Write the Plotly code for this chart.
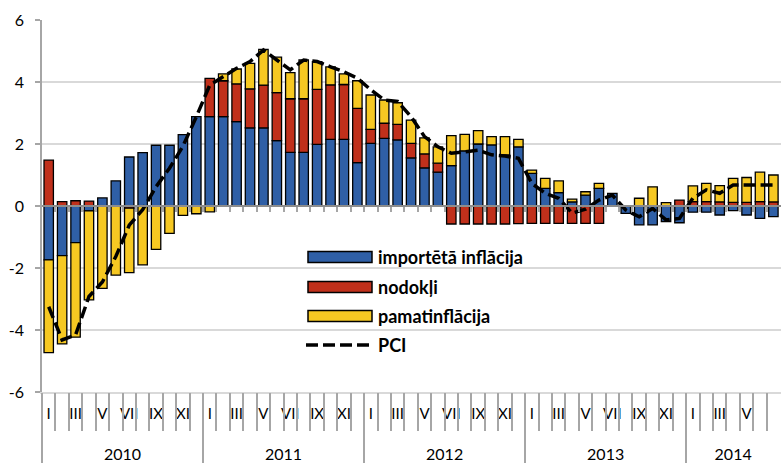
import plotly.graph_objects as go

# ---- data (monthly, Jan 2010 - Jul 2014) ----
years = ["2010", "2011", "2012", "2013", "2014"]
month_labels = ["I", "", "III", "", "V", "", "VII", "", "IX", "", "XI", ""]

importeta = [-1.74, -1.60, -1.18, -0.16, 0.26, 0.81, 1.58, 1.72, 1.96, 1.96, 2.30, 2.88,
             2.88, 2.88, 2.72, 2.52, 2.52, 2.11, 1.73, 1.73, 1.99, 2.15, 2.15, 1.40,
             2.02, 2.18, 2.13, 1.55, 1.23, 1.09, 1.30, 1.78, 2.00, 1.97, 1.65, 1.91,
             1.05, 0.57, 0.43, 0.13, 0.35, 0.57, 0.41, -0.24, -0.61, -0.61, -0.50, -0.54,
             -0.20, -0.20, -0.29, -0.15, -0.29, -0.40, -0.34]

nodokli = [1.48, 0.14, 0.17, 0.16, None, None, -0.07, None, None, None, None, None,
           1.24, 1.16, 1.22, 1.26, 1.38, 1.55, 1.73, 1.73, 1.77, 1.76, 1.77, 1.75,
           0.45, 0.49, 0.50, 0.47, 0.45, 0.29, -0.58, -0.58, -0.58, -0.58, -0.58, -0.57,
           -0.56, -0.56, -0.56, -0.56, -0.56, -0.56, None, None, None, None, None, 0.19,
           0.14, 0.14, 0.13, 0.12, 0.12, 0.14, 0.13]

pamatinflacija = [-2.99, -2.85, -3.05, -2.87, -2.66, -2.23, -2.08, -1.90, -1.40, -0.88, -0.30, -0.25,
                  -0.19, 0.22, 0.48, 0.82, 1.15, 1.14, 0.84, 1.25, 0.90, 0.58, 0.34, 0.89,
                  1.11, 0.75, 0.70, 0.75, 0.52, 0.53, 0.97, 0.53, 0.43, 0.27, 0.59, 0.24,
                  0.11, 0.32, 0.38, 0.09, 0.11, 0.16, None, None, 0.25, 0.62, 0.11, None,
                  0.51, 0.59, 0.53, 0.77, 0.80, 0.95, 0.87]

pci = [-3.25, -4.32, -4.16, -2.92, -2.45, -1.63, -0.62, -0.12, 0.62, 1.22, 1.93, 2.88,
       3.90, 4.17, 4.44, 4.66, 5.03, 4.71, 4.39, 4.71, 4.66, 4.49, 4.33, 4.12,
       3.75, 3.42, 3.37, 2.88, 2.24, 1.91, 1.70, 1.75, 1.80, 1.65, 1.61, 1.54,
       0.73, 0.41, 0.25, -0.23, -0.10, 0.19, 0.35, -0.13, -0.35, -0.08, -0.45, -0.40,
       0.25, 0.52, 0.41, 0.68, 0.68, 0.68, 0.68]

y_ticks = [-6, -4, -2, 0, 2, 4, 6]
y_tick_text = ["-6", "-4", "-2", "0", "2", "4", "6"]

series = [("importētā inflācija", importeta, "#2f5fa6"),
          ("nodokļi", nodokli, "#c0301b"),
          ("pamatinflācija", pamatinflacija, "#f6c822")]

n = len(pci)
x = list(range(n))

FONT = "Lato"
GREY = "#a6a6a6"

fig = go.Figure()
for name, vals, col in series:
    fig.add_trace(go.Bar(x=x, y=vals, name=name, showlegend=False,
                         marker=dict(color=col, line=dict(color="#000000", width=1.3))))

fig.add_trace(go.Scatter(x=x, y=pci, name="PCI", mode="lines", showlegend=False,
                         line=dict(color="#000000", width=3.5, dash="12px,5px")))

# invisible helper traces so that the overlay axes (ticks / year labels / zero axis) are drawn
for ax in ["x2", "x3", "x4", "x5"]:
    fig.add_trace(go.Scatter(x=[0], y=[0], xaxis=ax, yaxis="y", mode="markers",
                             marker=dict(opacity=0), showlegend=False, hoverinfo="skip"))

# tick positions derived from the month/year structure
boundaries = [k - 0.5 for k in range(1, n)]
year_bounds = [k - 0.5 for k in range(0, n, 12)]
label_pos = [k for k in range(n) if month_labels[k % 12] != ""]
label_txt = [month_labels[k % 12] for k in label_pos]
year_pos = [(s + min(s + 12, n - 0.5)) / 2 for s in year_bounds]

xr = [-0.5, 54.567]

# ---- legend (drawn in paper coordinates) ----
def px2x(px):
    return (px - 42) / 739.0

def py2y(py):
    return (392 - py) / 372.0

shapes = []
annotations = []
rows = [257, 287, 316, 345]
for (name, _, col), cy in zip(series, rows[:3]):
    shapes.append(dict(type="rect", xref="paper", yref="paper",
                       x0=px2x(308), x1=px2x(372), y0=py2y(cy + 5.5), y1=py2y(cy - 5.5),
                       fillcolor=col, line=dict(color="#000000", width=1.5), layer="above"))
    annotations.append(dict(xref="paper", yref="paper", x=px2x(376), y=py2y(cy),
                            xanchor="left", yanchor="middle", text=name, showarrow=False,
                            font=dict(family=FONT, size=18, weight="bold", color="#000000")))
shapes.append(dict(type="line", xref="paper", yref="paper",
                   x0=px2x(306), x1=px2x(372), y0=py2y(rows[3]), y1=py2y(rows[3]),
                   line=dict(color="#000000", width=3.5, dash="12px,5px"), layer="above"))
annotations.append(dict(xref="paper", yref="paper", x=px2x(376), y=py2y(rows[3]),
                        xanchor="left", yanchor="middle", text="PCI", showarrow=False,
                        font=dict(family=FONT, size=18, weight="bold", color="#000000")))

common = dict(overlaying="x", anchor="y", side="bottom", range=xr, automargin=False,
              showgrid=False, zeroline=False)

fig.update_layout(
    width=781, height=463,
    margin=dict(l=42, r=0, t=20, b=71),
    paper_bgcolor="white", plot_bgcolor="white",
    barmode="relative", bargap=0.3,
    font=dict(family=FONT, color="#000000"),
    showlegend=False,
    shapes=shapes, annotations=annotations,
    xaxis=dict(type="linear", range=xr, tickvals=label_pos, ticktext=label_txt,
               ticks="", showgrid=False, zeroline=False, showline=True, automargin=False,
               linecolor="#d9d9d9", linewidth=1.5,
               tickfont=dict(size=15), ticklabelstandoff=7),
    xaxis2=dict(tickvals=boundaries, ticks="outside", ticklen=38, tickwidth=1.5,
                tickcolor=GREY, showticklabels=False, **common),
    xaxis3=dict(tickvals=year_bounds, ticks="outside", ticklen=71, tickwidth=1.5,
                tickcolor=GREY, showticklabels=False, **common),
    xaxis4=dict(tickvals=year_pos, ticktext=years, ticks="",
                tickfont=dict(size=16), ticklabelstandoff=51, **common),
    xaxis5=dict(overlaying="x", anchor="free", position=0.5, side="bottom", range=xr,
                tickvals=boundaries, ticks="outside", ticklen=5, tickwidth=1.5,
                tickcolor=GREY, showline=True, linecolor="#8c8c8c", linewidth=2,
                showticklabels=False, showgrid=False, zeroline=False, automargin=False),
    yaxis=dict(range=[-6, 6], tickvals=y_ticks, ticktext=y_tick_text, ticks="outside",
               ticklen=5, tickwidth=1.5, tickcolor=GREY, showline=True, linecolor=GREY,
               linewidth=1.5, gridcolor="#d9d9d9", gridwidth=1.5, zeroline=False,
               automargin=False, tickfont=dict(size=16), ticklabelstandoff=8),
)

fig.write_html("out.html", config={"displayModeBar": False},
               post_script="document.body.style.margin='0';document.body.style.overflow='hidden';")
